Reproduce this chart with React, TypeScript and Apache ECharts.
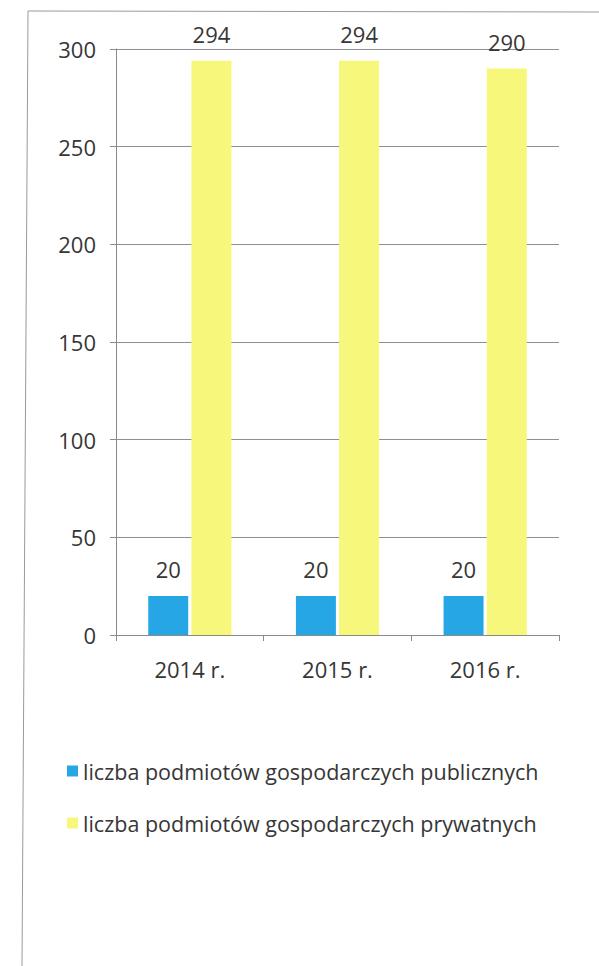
import React, { useEffect, useRef } from "react";
import * as echarts from "echarts";

const categories = ["2014 r.", "2015 r.", "2016 r."];
const publicCounts = [20, 20, 20];
const privateCounts = [294, 294, 290];
const seriesNames = [
  "liczba podmiotów gospodarczych publicznych",
  "liczba podmiotów gospodarczych prywatnych",
];
const yTicks = { min: 0, max: 300, interval: 50 };

const FONT = "Open Sans";
const TEXT = "#363636";

export default function App() {
  const ref = useRef<HTMLDivElement>(null);
  useEffect(() => {
    document.body.style.margin = "0";
    const chart = echarts.init(ref.current!, undefined, { renderer: "svg" });
    const label = {
      show: true,
      position: "top",
      distance: 16,
      color: TEXT,
      fontFamily: FONT,
      fontSize: 22,
    };
    chart.setOption({
      animation: false,
      backgroundColor: "#ffffff",
      textStyle: { fontFamily: FONT },
      grid: { left: 116, right: 40, top: 49, height: 586 },
      xAxis: {
        type: "category",
        data: categories,
        axisLine: { lineStyle: { color: "#8a8a8a", width: 1 } },
        axisTick: { show: true, length: 6, lineStyle: { color: "#8a8a8a" } },
        axisLabel: { color: TEXT, fontFamily: FONT, fontSize: 22, margin: 23 },
      },
      yAxis: {
        type: "value",
        min: yTicks.min,
        max: yTicks.max,
        interval: yTicks.interval,
        axisLine: { show: true, lineStyle: { color: "#8a8a8a", width: 1 } },
        axisTick: { show: true, length: 6, lineStyle: { color: "#8a8a8a" } },
        splitLine: { lineStyle: { color: "#8f8f8f", width: 1 } },
        axisLabel: { color: TEXT, fontFamily: FONT, fontSize: 22, margin: 20 },
      },
      legend: {
        orient: "vertical",
        left: 62,
        top: 755,
        itemWidth: 11,
        itemHeight: 11,
        itemGap: 30,
        icon: "rect",
        textStyle: { color: TEXT, fontFamily: FONT, fontSize: 21.5 },
        data: seriesNames,
      },
      series: [
        {
          name: seriesNames[0],
          type: "bar",
          data: publicCounts,
          barWidth: 40,
          barGap: "8%",
          itemStyle: { color: "#27a6e6" },
          label,
        },
        {
          name: seriesNames[1],
          type: "bar",
          data: privateCounts,
          barWidth: 40,
          itemStyle: { color: "#f7f77c" },
          label,
        },
      ],
      graphic: [
        {
          type: "polyline",
          silent: true,
          shape: { points: [[599, 12], [28, 11], [22, 966]] },
          style: { stroke: "#9a9a9a", lineWidth: 1, fill: null },
        },
      ],
    });
    return () => chart.dispose();
  }, []);
  return <div ref={ref} style={{ width: 599, height: 966 }} />;
}
